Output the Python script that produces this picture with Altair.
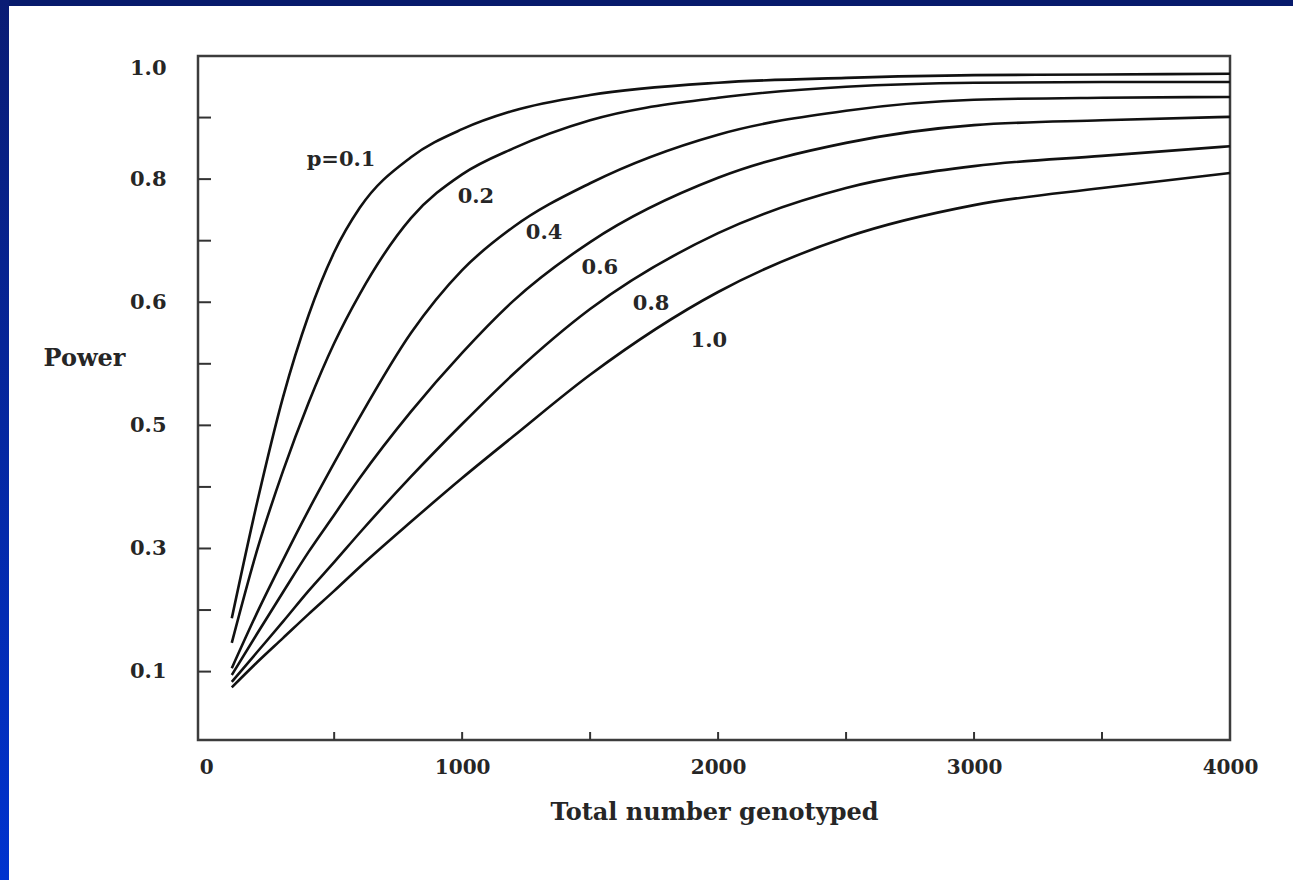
import altair as alt
import pandas as pd

# ---- data ----
n_values = [100, 200, 300, 400, 500, 600, 800, 1000, 1200, 1500, 2000, 2500, 3000, 3500, 4000]
power_p01 = [0.178, 0.349, 0.501, 0.621, 0.713, 0.778, 0.852, 0.893, 0.920, 0.943, 0.961, 0.968, 0.972, 0.973, 0.974]
power_p02 = [0.142, 0.279, 0.393, 0.493, 0.580, 0.652, 0.763, 0.827, 0.865, 0.906, 0.939, 0.955, 0.961, 0.962, 0.962]
power_p04 = [0.105, 0.187, 0.263, 0.336, 0.405, 0.472, 0.595, 0.687, 0.750, 0.814, 0.885, 0.920, 0.936, 0.939, 0.940]
power_p06 = [0.095, 0.156, 0.216, 0.275, 0.329, 0.383, 0.480, 0.566, 0.642, 0.728, 0.822, 0.873, 0.899, 0.906, 0.911]
power_p08 = [0.085, 0.129, 0.173, 0.218, 0.260, 0.303, 0.385, 0.462, 0.535, 0.630, 0.741, 0.807, 0.839, 0.854, 0.868]
power_p10 = [0.077, 0.114, 0.149, 0.184, 0.218, 0.253, 0.319, 0.383, 0.444, 0.534, 0.655, 0.735, 0.782, 0.807, 0.829]

series_names = ["0.1", "0.2", "0.4", "0.6", "0.8", "1.0"]
series_values = [power_p01, power_p02, power_p04, power_p06, power_p08, power_p10]

label_texts = ["p=0.1", "0.2", "0.4", "0.6", "0.8", "1.0"]
label_n = [527, 1054, 1320, 1538, 1738, 1964]
label_power = [0.848, 0.794, 0.741, 0.690, 0.637, 0.583]

y_label_values = [0.1, 0.28, 0.46, 0.64, 0.82, 1.0]
y_tick_values = [0.1, 0.19, 0.28, 0.37, 0.46, 0.55, 0.64, 0.73, 0.82, 0.91]
x_label_values = [0, 1000, 2000, 3000, 4000]
x_tick_values = [500, 1000, 1500, 2000, 2500, 3000, 3500]

# ---- tables ----
rows = []
for name, vals in zip(series_names, series_values):
    for n, p in zip(n_values, vals):
        rows.append({"n": n, "power": p, "p": name})
curves = pd.DataFrame(rows)
labels = pd.DataFrame({"n": label_n, "power": label_power, "text": label_texts})
yt = pd.DataFrame({"power": y_tick_values})
xt = pd.DataFrame({"n": x_tick_values})
one = pd.DataFrame({"a": [0]})

FONT = "DejaVu Serif"
INK = "#262626"
xscale = alt.Scale(domain=[-32, 4000], nice=False, zero=False)
yscale = alt.Scale(domain=[0, 1.0], nice=False, zero=False)

x_axis = alt.Axis(
    values=x_label_values, format="d", ticks=False, tickSize=0, domain=False, grid=False,
    labelPadding=17, labelFlush=False, labelFont=FONT, labelFontWeight="bold",
    labelFontSize=20, labelColor=INK,
    title="Total number genotyped", titleFont=FONT, titleFontWeight="bold",
    titleFontSize=24, titleColor=INK, titleX=516, titleY=72, titleAlign="center",
    titleBaseline="middle",
)
y_axis = alt.Axis(
    values=y_label_values, format=".1f", ticks=False, tickSize=0, domain=False, grid=False,
    labelPadding=32, labelFont=FONT, labelFontWeight="bold", labelFontSize=21, labelColor=INK,
    labelOffset={"condition": {"test": "datum.value > 0.99", "value": 12}, "value": 0},
    title="Power", titleAngle=0, titleX=-114, titleY=302, titleAlign="center",
    titleBaseline="middle", titleFont=FONT, titleFontWeight="bold", titleFontSize=24,
    titleColor=INK,
)

X = alt.X("n:Q", scale=xscale, axis=x_axis)
Y = alt.Y("power:Q", scale=yscale, axis=y_axis)

lines = alt.Chart(curves).mark_line(color="#111111", strokeWidth=2.6, interpolate="monotone").encode(
    x=X, y=Y, detail="p:N",
)

texts = alt.Chart(labels).mark_text(
    font=FONT, fontWeight="bold", fontSize=21, color=INK, align="center", baseline="middle"
).encode(x=X, y=Y, text="text:N")

yticks = alt.Chart(yt).mark_rule(color="#333333", strokeWidth=2).encode(
    y=Y, x=alt.value(0), x2=alt.value(13),
)

xticks = alt.Chart(xt).mark_rule(color="#333333", strokeWidth=2).encode(
    x=X, y=alt.value(684), y2=alt.value(676),
)

top_strip = alt.Chart(one).mark_rect(color="#071a6c").encode(
    x=alt.value(-198), x2=alt.value(1095), y=alt.value(-56), y2=alt.value(-50)
)
left_strip = alt.Chart(one).mark_rect(
    color=alt.LinearGradient(
        gradient="linear",
        stops=[alt.GradientStop(color="#0a1c74", offset=0), alt.GradientStop(color="#0033cf", offset=1)],
        x1=0, x2=0, y1=0, y2=1,
    )
).encode(x=alt.value(-198), x2=alt.value(-189), y=alt.value(-56), y2=alt.value(824))

chart = alt.layer(lines, yticks, xticks, texts, top_strip, left_strip).properties(
    width=1032,
    height=684,
    autosize=alt.AutoSizeParams(type="none"),
    padding={"left": 198, "top": 56, "right": 63, "bottom": 140},
    background="white",
).configure_view(stroke="#3c3c3c", strokeWidth=2.5)

chart.save("out.html", embed_options={"renderer": "svg", "actions": False})
